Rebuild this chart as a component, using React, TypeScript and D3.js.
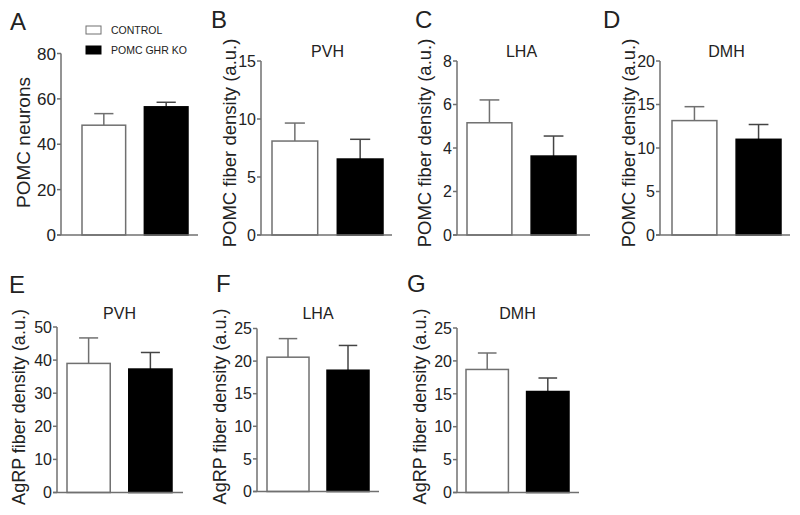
import React from "react";
import * as d3 from "d3";

const groups = ["CONTROL", "POMC GHR KO"];
const panelLetters = ["A", "B", "C", "D", "E", "F", "G"];
const panelTitles = ["", "PVH", "LHA", "DMH", "PVH", "LHA", "DMH"];
const yLabels = [
  "POMC neurons",
  "POMC fiber density (a.u.)",
  "POMC fiber density (a.u.)",
  "POMC fiber density (a.u.)",
  "AgRP fiber density (a.u.)",
  "AgRP fiber density (a.u.)",
  "AgRP fiber density (a.u.)",
];
const yMax = [80, 15, 8, 20, 50, 25, 25];
const yStep = [20, 5, 2, 5, 10, 5, 5];
const controlMean = [48.4, 8.1, 5.16, 13.15, 39.0, 20.6, 18.7];
const controlErr = [5.1, 1.55, 1.05, 1.6, 7.7, 2.85, 2.5];
const koMean = [56.5, 6.55, 3.63, 11.0, 37.3, 18.6, 15.35];
const koErr = [2.0, 1.7, 0.92, 1.7, 5.0, 3.8, 2.05];

// layout (pixels)
const layout = [
  { axisX: 61, axisEnd: 198, b0: 82, b1: 188, y0: 235, y1: 53.5, tick: 17, lab: 19, labX: 23, labY: 142.5, letterX: 10, letterY: 30, titleY: 57 },
  { axisX: 261, axisEnd: 392, b0: 272, b1: 383, y0: 235, y1: 61, tick: 16, lab: 18.5, labX: 229.5, labY: 143, letterX: 211, letterY: 28, titleY: 57 },
  { axisX: 457, axisEnd: 590, b0: 467, b1: 576, y0: 235, y1: 61, tick: 16, lab: 18.5, labX: 425, labY: 143, letterX: 415, letterY: 28, titleY: 57 },
  { axisX: 660, axisEnd: 790, b0: 672, b1: 781, y0: 235, y1: 61, tick: 16, lab: 18.5, labX: 629, labY: 143, letterX: 603, letterY: 28, titleY: 57 },
  { axisX: 57, axisEnd: 183, b0: 67, b1: 172, y0: 492.5, y1: 327, tick: 16, lab: 18, labX: 18.5, labY: 407, letterX: 9, letterY: 293, titleY: 319 },
  { axisX: 257, axisEnd: 379, b0: 267, b1: 369, y0: 491.5, y1: 328.5, tick: 16, lab: 18, labX: 220, labY: 406.5, letterX: 216, letterY: 292, titleY: 319 },
  { axisX: 457, axisEnd: 579, b0: 466, b1: 569, y0: 492.5, y1: 328, tick: 16, lab: 18, labX: 420, labY: 406.5, letterX: 407, letterY: 292, titleY: 319 },
];

const AXIS = "#707070";
const TEXT = "#222";
const FONT = "'Liberation Sans', Arial, sans-serif";

function Panel({ i }: { i: number }) {
  const L = layout[i];
  const y = d3.scaleLinear().domain([0, yMax[i]]).range([L.y0, L.y1]);
  const x = d3.scaleBand<string>().domain(groups).range([L.b0, L.b1]).paddingInner(0.3).paddingOuter(0);
  const ticks = d3.range(0, yMax[i] + 1e-9, yStep[i]);
  const bw = x.bandwidth();
  const means = [controlMean[i], koMean[i]];
  const errs = [controlErr[i], koErr[i]];
  return (
    <g>
      <text x={L.letterX} y={L.letterY} fontSize={24} fill={TEXT} fontFamily={FONT}>
        {panelLetters[i]}
      </text>
      {panelTitles[i] && (
        <text x={(L.b0 + L.b1) / 2} y={L.titleY} fontSize={16} textAnchor="middle" fill={TEXT} fontFamily={FONT}>
          {panelTitles[i]}
        </text>
      )}
      <text
        transform={`translate(${L.labX},${L.labY}) rotate(-90)`}
        dy="0.35em"
        textAnchor="middle"
        fontSize={L.lab}
        fill={TEXT}
        fontFamily={FONT}
      >
        {yLabels[i]}
      </text>
      {/* error bars */}
      {groups.map((g, k) => {
        const cx = (x(g) as number) + bw / 2;
        const top = y(means[k] + errs[k]);
        const col = k === 0 ? AXIS : "#444";
        return (
          <g key={"e" + g}>
            <line x1={cx} x2={cx} y1={y(means[k])} y2={top} stroke={col} strokeWidth={1.5} />
            <line x1={cx - bw * 0.22} x2={cx + bw * 0.22} y1={top} y2={top} stroke={col} strokeWidth={1.5} />
          </g>
        );
      })}
      {/* bars */}
      {groups.map((g, k) => (
        <rect
          key={g}
          x={x(g)}
          y={y(means[k])}
          width={bw}
          height={L.y0 - y(means[k])}
          fill={k === 0 ? "#fff" : "#000"}
          stroke={k === 0 ? AXIS : "#000"}
          strokeWidth={1.5}
        />
      ))}
      {/* axes */}
      <line x1={L.axisX} x2={L.axisX} y1={L.y0} y2={L.y1} stroke={AXIS} strokeWidth={1.5} />
      <line x1={L.axisX - 4} x2={L.axisEnd} y1={L.y0} y2={L.y0} stroke={AXIS} strokeWidth={1.5} />
      {ticks.map((t) => (
        <g key={t}>
          <line x1={L.axisX - 4} x2={L.axisX} y1={y(t)} y2={y(t)} stroke={AXIS} strokeWidth={1.5} />
          <text x={L.axisX - 5} y={y(t)} dy="0.36em" textAnchor="end" fontSize={L.tick} fill={TEXT} fontFamily={FONT}>
            {t}
          </text>
        </g>
      ))}
    </g>
  );
}

export default function App() {
  return (
    <svg width={800} height={515} style={{ position: "absolute", left: 0, top: 0, background: "#fff" }}>
      <rect x={0} y={0} width={800} height={515} fill="#fff" />
      {layout.map((_, i) => (
        <Panel key={i} i={i} />
      ))}
      {/* legend */}
      {groups.map((g, k) => (
        <g key={g}>
          <rect x={86} y={26 + k * 20} width={15} height={8} fill={k === 0 ? "#fff" : "#000"} stroke={k === 0 ? AXIS : "#000"} strokeWidth={1} />
          <text x={111} y={30 + k * 20} dy="0.35em" fontSize={10.5} fill={TEXT} fontFamily={FONT}>
            {g}
          </text>
        </g>
      ))}
    </svg>
  );
}
